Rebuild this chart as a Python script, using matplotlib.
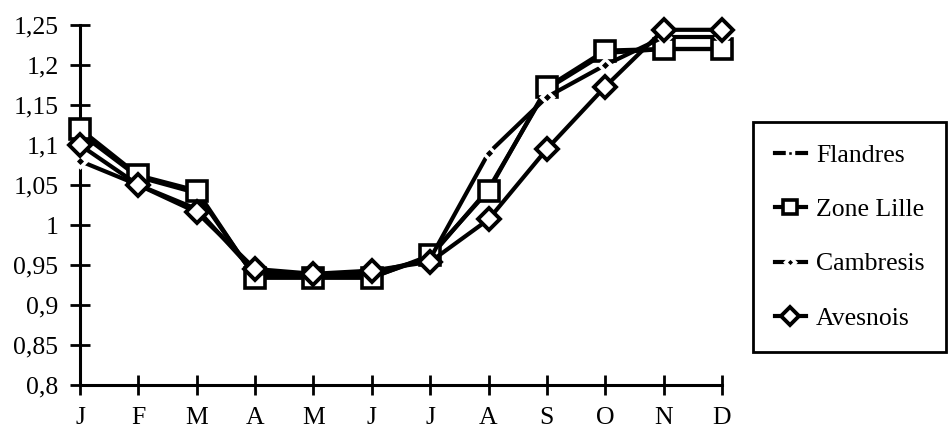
import matplotlib
matplotlib.use("Agg")
import matplotlib.pyplot as plt
from matplotlib.ticker import FixedLocator

months = ["J", "F", "M", "A", "M", "J", "J", "A", "S", "O", "N", "D"]
flandres = [1.115, 1.06, 1.04, 0.935, 0.935, 0.935, 0.96, 1.045, 1.17, 1.215, 1.22, 1.22]
zone_lille = [1.12, 1.062, 1.043, 0.934, 0.934, 0.934, 0.962, 1.043, 1.172, 1.218, 1.22, 1.22]
cambresis = [1.08, 1.05, 1.02, 0.94, 0.937, 0.94, 0.958, 1.09, 1.16, 1.20, 1.235, 1.235]
avesnois = [1.10, 1.05, 1.016, 0.945, 0.939, 0.943, 0.954, 1.007, 1.095, 1.173, 1.244, 1.244]
y_ticks = [0.8, 0.85, 0.9, 0.95, 1.0, 1.05, 1.1, 1.15, 1.2, 1.25]
y_labels = ["0,8", "0,85", "0,9", "0,95", "1", "1,05", "1,1", "1,15", "1,2", "1,25"]

plt.rcParams["font.family"] = ["Liberation Serif", "DejaVu Serif"]
FS = 18.5

fig = plt.figure(figsize=(9.48, 4.43), dpi=100)
ax = fig.add_axes([80 / 948, 58 / 443, 642 / 948, 360 / 443])

x = list(range(len(months)))
lw = 3.0

ax.plot(x, flandres, color="black", lw=lw, marker="s", markersize=6,
        markerfacecolor="black", markeredgecolor="white", markeredgewidth=2.5,
        label="Flandres", zorder=3)
ax.plot(x, zone_lille, color="black", lw=lw, marker="s", markersize=14,
        markerfacecolor="white", markeredgecolor="black", markeredgewidth=2.6,
        label="Zone Lille", zorder=4)
ax.plot(x, cambresis, color="black", lw=lw, marker="D", markersize=6,
        markerfacecolor="black", markeredgecolor="white", markeredgewidth=2.5,
        label="Cambresis", zorder=5)
ax.plot(x, avesnois, color="black", lw=lw, marker="D", markersize=11,
        markerfacecolor="white", markeredgecolor="black", markeredgewidth=2.8,
        label="Avesnois", zorder=6)

ax.set_xlim(0, 11)
ax.set_ylim(0.8, 1.25)
ax.set_xticks(x)
ax.set_xticklabels(months, fontsize=FS)
ax.yaxis.set_major_locator(FixedLocator(y_ticks))
ax.set_yticklabels(y_labels, fontsize=FS)

for side in ("top", "right"):
    ax.spines[side].set_visible(False)
for side in ("left", "bottom"):
    ax.spines[side].set_linewidth(2.2)
    ax.spines[side].set_color("black")
ax.tick_params(axis="both", direction="inout", length=15, width=2.0,
               colors="black")
ax.tick_params(axis="y", pad=8)
ax.tick_params(axis="x", pad=8)

for line in ax.lines:
    line.set_clip_on(False)

leg = fig.legend(loc="upper left", bbox_to_anchor=(753 / 948, 1 - 122 / 443),
                 frameon=True, fancybox=False, fontsize=FS,
                 handlelength=1.2, handletextpad=0.4, labelspacing=1.22,
                 borderpad=0.85, borderaxespad=0.0, edgecolor="black",
                 framealpha=1)
leg.get_frame().set_linewidth(2.0)
handle_sizes = [5, 10, 5, 9]
for h, ms in zip(leg.legend_handles, handle_sizes):
    h.set_markersize(ms)

fig.savefig("out.png", dpi=100, facecolor="white")
